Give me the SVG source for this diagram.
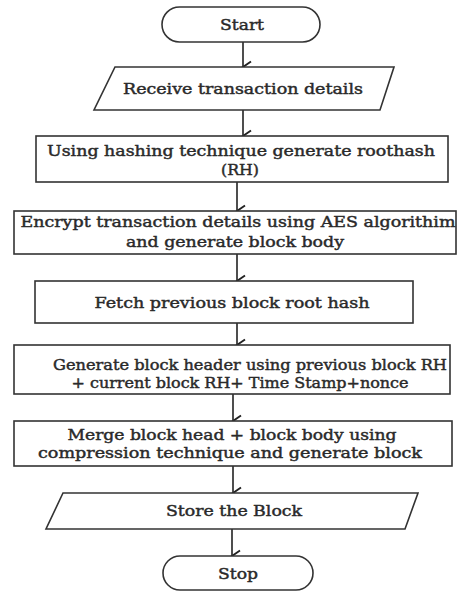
<svg xmlns="http://www.w3.org/2000/svg" width="457" height="592" viewBox="0 0 457 592">
<style>
.s{fill:#fff;stroke:#333;stroke-width:1.6}
.t{font-family:"DejaVu Serif","Liberation Serif",serif;font-size:15px;fill:#2a2a2a;stroke:#2a2a2a;stroke-width:0.45;text-anchor:middle;dominant-baseline:central}
.c{stroke:#222;stroke-width:1.6;fill:none}
</style>
<defs>
<marker id="a" markerWidth="14" markerHeight="14" refX="7" refY="11" orient="auto" markerUnits="userSpaceOnUse" viewBox="0 0 14 14">
<path d="M1.5,3 L7,11 L12.5,3" fill="none" stroke="#222" stroke-width="1.9"/>
</marker>
</defs>
<rect width="457" height="592" fill="#fff"/>
<g id="connectors">
<line class="c" x1="243" y1="42" x2="243" y2="67" marker-end="url(#a)"/>
<line class="c" x1="243" y1="110" x2="243" y2="136" marker-end="url(#a)"/>
<line class="c" x1="237" y1="182" x2="237" y2="211" marker-end="url(#a)"/>
<line class="c" x1="237" y1="254" x2="237" y2="281" marker-end="url(#a)"/>
<line class="c" x1="237" y1="323" x2="237" y2="345" marker-end="url(#a)"/>
<line class="c" x1="233" y1="394" x2="233" y2="421" marker-end="url(#a)"/>
<line class="c" x1="233" y1="466" x2="233" y2="493" marker-end="url(#a)"/>
<line class="c" x1="232" y1="529" x2="232" y2="556" marker-end="url(#a)"/>
</g>
<g id="start">
<rect class="s" x="162" y="7" width="158" height="35" rx="17.5"/>
<text class="t" x="242" y="25" textLength="44" lengthAdjust="spacingAndGlyphs">Start</text>
</g>
<g id="receive">
<polygon class="s" points="115,67 394,67 380,110 94,110"/>
<text class="t" x="243" y="89" textLength="240" lengthAdjust="spacingAndGlyphs">Receive transaction details</text>
</g>
<g id="hash">
<rect class="s" x="36" y="136" width="412" height="46"/>
<text class="t" x="241" y="151" textLength="388" lengthAdjust="spacingAndGlyphs">Using hashing technique generate roothash</text>
<text class="t" x="240" y="170" textLength="38" lengthAdjust="spacingAndGlyphs">(RH)</text>
</g>
<g id="encrypt">
<rect class="s" x="14" y="211" width="442" height="43"/>
<text class="t" x="238" y="222" textLength="435" lengthAdjust="spacingAndGlyphs">Encrypt transaction details using AES algorithim</text>
<text class="t" x="235" y="242" textLength="218" lengthAdjust="spacingAndGlyphs">and generate block body</text>
</g>
<g id="fetch">
<rect class="s" x="35" y="281" width="378" height="42"/>
<text class="t" x="232" y="303" textLength="275" lengthAdjust="spacingAndGlyphs">Fetch previous block root hash</text>
</g>
<g id="header">
<rect class="s" x="14" y="345" width="436" height="49"/>
<text class="t" x="250" y="365" textLength="394" lengthAdjust="spacingAndGlyphs">Generate block header using previous block RH</text>
<text class="t" x="240" y="383" textLength="337" lengthAdjust="spacingAndGlyphs">+ current block RH+ Time Stamp+nonce</text>
</g>
<g id="merge">
<rect class="s" x="14" y="421" width="438" height="45"/>
<text class="t" x="232" y="435" textLength="329" lengthAdjust="spacingAndGlyphs">Merge block head + block body using</text>
<text class="t" x="230" y="453" textLength="384" lengthAdjust="spacingAndGlyphs">compression technique and generate block</text>
</g>
<g id="store">
<polygon class="s" points="63,493 418,493 405,529 46,529"/>
<text class="t" x="234" y="511" textLength="136" lengthAdjust="spacingAndGlyphs">Store the Block</text>
</g>
<g id="stop">
<rect class="s" x="163" y="556" width="150" height="34" rx="17"/>
<text class="t" x="238" y="574" textLength="40" lengthAdjust="spacingAndGlyphs">Stop</text>
</g>
</svg>
